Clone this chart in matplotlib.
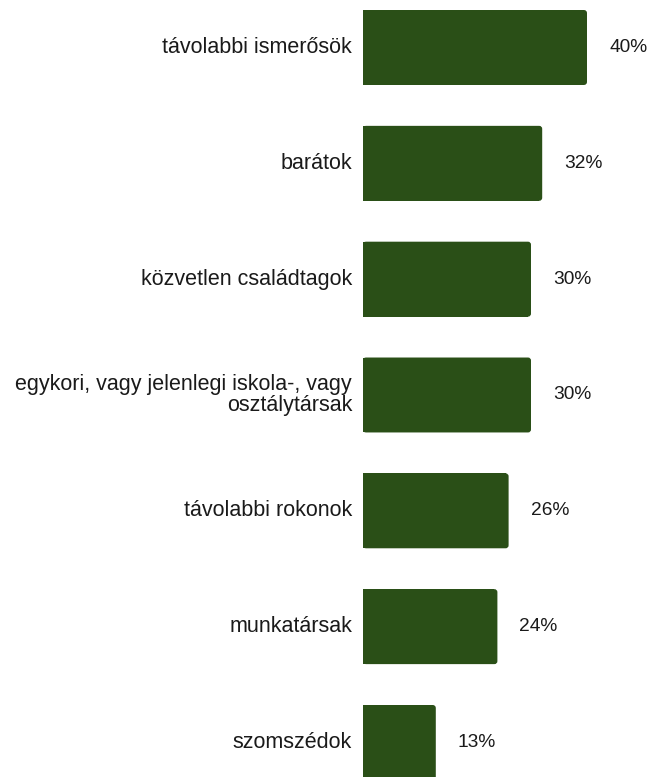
import matplotlib
matplotlib.use("Agg")
import matplotlib.pyplot as plt
from matplotlib.patches import FancyBboxPatch

categories = [
    "távolabbi ismerősök",
    "barátok",
    "közvetlen családtagok",
    "egykori, vagy jelenlegi iskola-, vagy\nosztálytársak",
    "távolabbi rokonok",
    "munkatársak",
    "szomszédok",
]
values = [40, 32, 30, 30, 26, 24, 13]
value_labels = ["40%", "32%", "30%", "30%", "26%", "24%", "13%"]

W, H = 652, 777
fig = plt.figure(figsize=(W / 100, H / 100), dpi=100)
ax = fig.add_axes([363 / W, 0, (W - 363) / W, 1])

bar_color = "#2a4f17"
px_x = 5.6          # pixels per percent
px_y = 115.83       # pixels per category
r_px = 3.0
r = r_px / px_x
bh = 0.647
ypos = list(range(len(categories)))

# square-left part
ax.barh(ypos, [v - r for v in values], height=bh, color=bar_color, linewidth=0)
# rounded right part
for y, v in zip(ypos, values):
    p = FancyBboxPatch((r, y - bh / 2 + r_px / px_y), v - 2 * r, bh - 2 * r_px / px_y,
                       boxstyle=f"round,pad={r}", mutation_aspect=px_x / px_y,
                       facecolor=bar_color, edgecolor="none")
    ax.add_patch(p)

ax.set_xlim(0, (W - 363) / px_x)
ax.set_ylim(6.298, -0.41)
ax.axis("off")

for y, v, lab, cat in zip(ypos, values, value_labels, categories):
    ax.annotate(lab, (v, y), xytext=(22, 0), textcoords="offset pixels",
                ha="left", va="center", fontsize=13.8, family=["Liberation Sans", "DejaVu Sans"],
                color="#1a1a1a")
    ax.annotate(cat, (0, y), xytext=(-11, 0), textcoords="offset pixels",
                ha="right", va="center", fontsize=15.5, family=["Liberation Sans", "DejaVu Sans"],
                color="#1a1a1a", linespacing=1.05, annotation_clip=False)

fig.savefig("out.png", dpi=100)
